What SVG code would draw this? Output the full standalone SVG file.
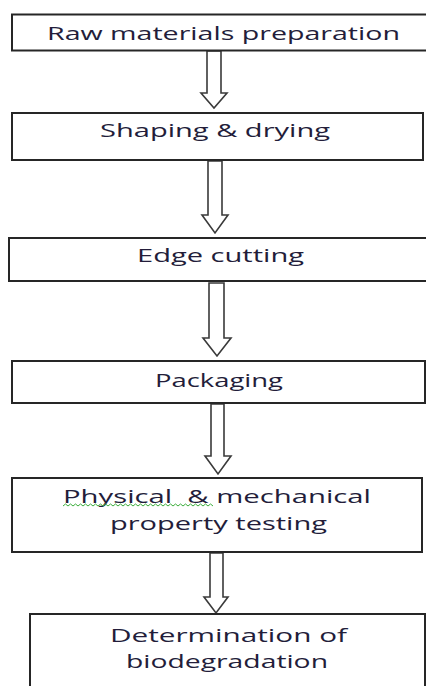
<svg xmlns="http://www.w3.org/2000/svg" width="426" height="686" viewBox="0 0 426 686">
<style>
.box{fill:#fff;stroke:#262626;stroke-width:2}
.t{font-family:"Open Sans","Liberation Sans",sans-serif;font-size:18px;fill:#231d3a;white-space:pre}
.arr{fill:#fff;stroke:#3a3a3a;stroke-width:1.6;stroke-linejoin:miter}
</style>
<rect width="426" height="686" fill="#fff"/>
<g id="connectors">
<polygon class="arr" points="207,51 221,51 221,93 227,93 214,108 201,93 207,93"/>
<polygon class="arr" points="208,161 222,161 222,215 228,215 215,233 202,215 208,215"/>
<polygon class="arr" points="209,283 224,283 224,338 231,338 217,356 203,338 209,338"/>
<polygon class="arr" points="211,404 224,404 224,456 231,456 218,474 205,456 211,456"/>
<polygon class="arr" points="210,553 223,553 223,597 228,597 216,613 204,597 210,597"/>
</g>
<g id="n1"><rect class="box" x="12" y="14.5" width="420" height="36"/><text class="t" x="47" y="40" textLength="353" lengthAdjust="spacingAndGlyphs">Raw materials preparation</text></g>
<g id="n2"><rect class="box" x="12" y="113" width="411" height="47"/><text class="t" x="100" y="137" textLength="230" lengthAdjust="spacingAndGlyphs">Shaping &amp; drying</text></g>
<g id="n3"><rect class="box" x="9" y="238" width="423" height="43"/><text class="t" x="137" y="262" textLength="167" lengthAdjust="spacingAndGlyphs">Edge cutting</text></g>
<g id="n4"><rect class="box" x="12" y="361" width="413" height="42"/><text class="t" x="155" y="387" textLength="128" lengthAdjust="spacingAndGlyphs">Packaging</text></g>
<g id="n5"><rect class="box" x="12" y="478" width="410" height="74"/><text class="t" x="63" y="503" textLength="308" lengthAdjust="spacingAndGlyphs" xml:space="preserve">Physical  &amp; mechanical</text><text class="t" x="110" y="530" textLength="217" lengthAdjust="spacingAndGlyphs">property testing</text><path d="M63,506 l2.5,-2 l2.5,2 l2.5,-2 l2.5,2 l2.5,-2 l2.5,2 l2.5,-2 l2.5,2 l2.5,-2 l2.5,2 l2.5,-2 l2.5,2 l2.5,-2 l2.5,2 l2.5,-2 l2.5,2 l2.5,-2 l2.5,2 l2.5,-2 l2.5,2 l2.5,-2 l2.5,2 l2.5,-2 l2.5,2 l2.5,-2 l2.5,2 l2.5,-2 l2.5,2 l2.5,-2 l2.5,2 l2.5,-2 l2.5,2 l2.5,-2 l2.5,2 l2.5,-2 l2.5,2 l2.5,-2 l2.5,2 l2.5,-2 l2.5,2 l2.5,-2 l2.5,2 l2.5,-2 l2.5,2 l2.5,-2 l2.5,2 l2.5,-2 l2.5,2 l2.5,-2 l2.5,2 l2.5,-2 l2.5,2 l2.5,-2 l2.5,2 l2.5,-2 l2.5,2 l2.5,-2 l2.5,2 l2.5,-2 l2.5,2" fill="none" stroke="#3cae3c" stroke-width="1"/></g>
<g id="n6"><rect class="box" x="30" y="614" width="395" height="80"/><text class="t" x="110" y="642" textLength="237" lengthAdjust="spacingAndGlyphs">Determination of</text><text class="t" x="126" y="668" textLength="202" lengthAdjust="spacingAndGlyphs">biodegradation</text></g>
</svg>
